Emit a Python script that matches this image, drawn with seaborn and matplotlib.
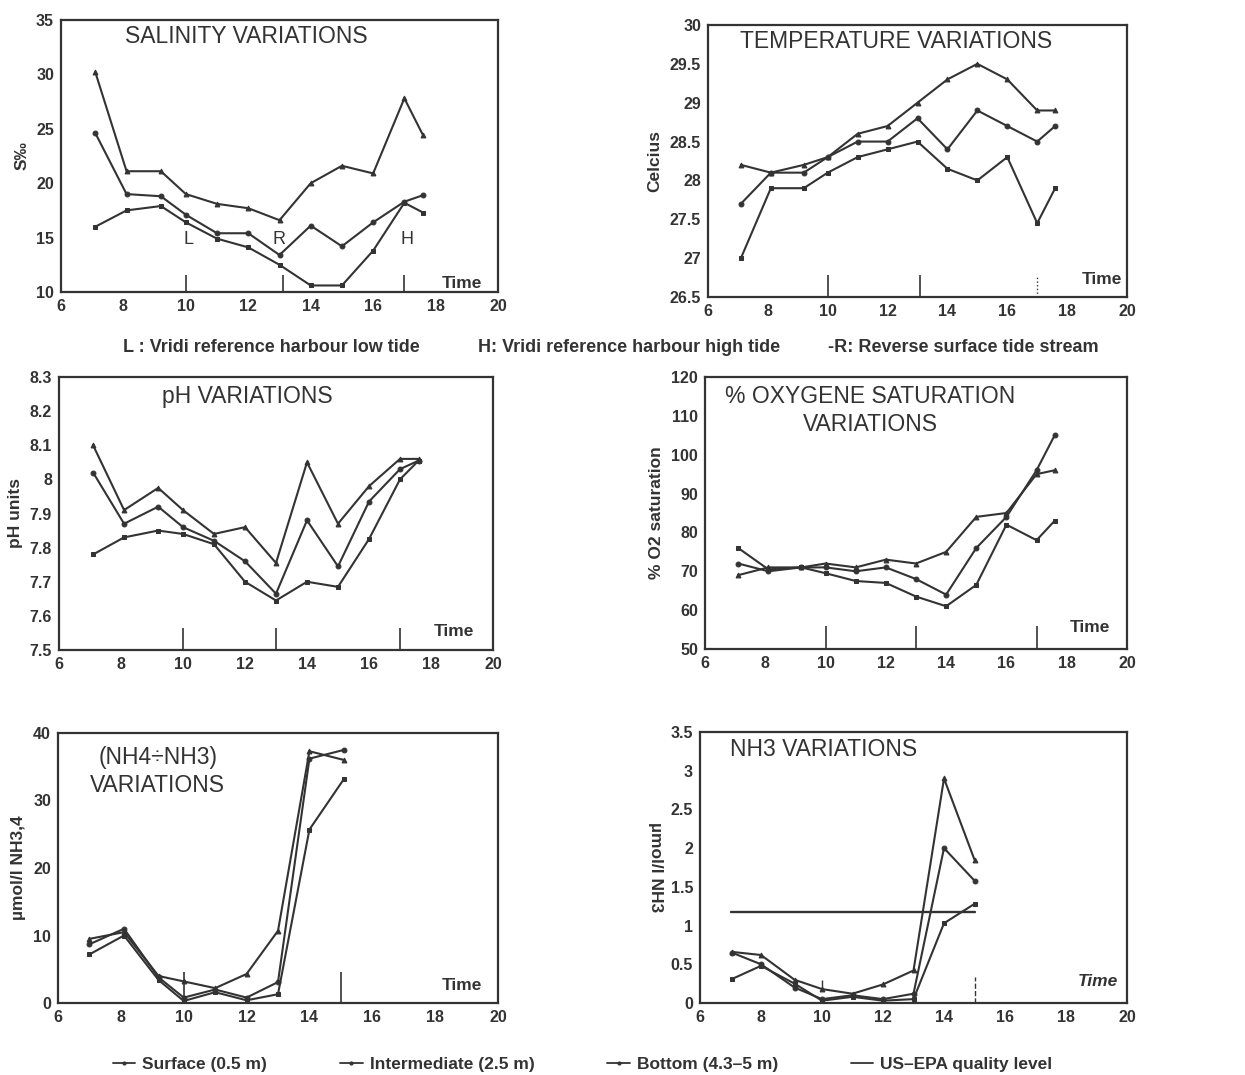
import matplotlib
matplotlib.use('Agg')
import matplotlib.pyplot as plt
import seaborn as sns
from matplotlib.lines import Line2D

sns.set_theme(style='white')
plt.rcParams['font.family'] = ['Liberation Sans', 'DejaVu Sans']

INK = '#333333'

# ---------------- data ----------------
times = [7.1, 8.1, 9.2, 10.0, 11.0, 12.0, 13.0, 14.0, 15.0, 16.0, 17.0, 17.6]

sal_surface = [30.2, 21.1, 21.1, 19.0, 18.1, 17.7, 16.6, 20.0, 21.6, 20.9, 27.8, 24.4]
sal_interm = [24.6, 19.0, 18.8, 17.1, 15.4, 15.4, 13.4, 16.1, 14.2, 16.4, 18.3, 18.9]
sal_bottom = [16.0, 17.5, 17.9, 16.4, 14.9, 14.1, 12.5, 10.6, 10.6, 13.8, 18.2, 17.3]

tmp_surface = [28.2, 28.1, 28.2, 28.3, 28.6, 28.7, 29.0, 29.3, 29.5, 29.3, 28.9, 28.9]
tmp_interm = [27.7, 28.1, 28.1, 28.3, 28.5, 28.5, 28.8, 28.4, 28.9, 28.7, 28.5, 28.7]
tmp_bottom = [27.0, 27.9, 27.9, 28.1, 28.3, 28.4, 28.5, 28.15, 28.0, 28.3, 27.45, 27.9]

ph_surface = [8.10, 7.91, 7.975, 7.91, 7.84, 7.86, 7.755, 8.05, 7.87, 7.98, 8.06, 8.06]
ph_interm = [8.02, 7.87, 7.92, 7.86, 7.82, 7.76, 7.665, 7.88, 7.745, 7.935, 8.03, 8.055]
ph_bottom = [7.78, 7.83, 7.85, 7.84, 7.81, 7.70, 7.645, 7.70, 7.685, 7.825, 8.00, 8.055]

ox_surface = [69, 71, 71, 72, 71, 73, 72, 75, 84, 85, 95, 96]
ox_interm = [72, 70, 71, 71, 70, 71, 68, 64, 76, 84, 96, 105]
ox_bottom = [76, 70.5, 71, 69.5, 67.5, 67, 63.5, 61, 66.5, 82, 78, 83]

nh_times = [7.0, 8.1, 9.2, 10.0, 11.0, 12.0, 13.0, 14.0, 15.1]
nh4_surface = [9.5, 10.5, 4.0, 3.2, 2.2, 4.3, 10.7, 37.3, 36.0]
nh4_interm = [8.7, 11.0, 3.8, 0.8, 2.0, 0.8, 3.1, 36.2, 37.5]
nh4_bottom = [7.2, 10.0, 3.4, 0.3, 1.6, 0.4, 1.3, 25.7, 33.2]

nh3_times = [7.05, 8.0, 9.1, 10.0, 11.0, 12.0, 13.0, 14.0, 15.0]
nh3_surface = [0.66, 0.62, 0.30, 0.18, 0.12, 0.24, 0.42, 2.90, 1.85]
nh3_interm = [0.65, 0.50, 0.20, 0.05, 0.10, 0.05, 0.12, 2.00, 1.58]
nh3_bottom = [0.31, 0.48, 0.25, 0.03, 0.08, 0.03, 0.05, 1.03, 1.28]
epa_x = [7.0, 15.0]
epa_level = [1.18, 1.18]

series_names = ['Surface (0.5 m)', 'Intermediate (2.5 m)', 'Bottom (4.3\u20135 m)', 'US\u2013EPA quality level']
markers = ['^', 'o', 's']

x_ticks = [6, 8, 10, 12, 14, 16, 18, 20]

# ---------------- figure ----------------
fig = plt.figure(figsize=(12.45, 10.75), dpi=100)

def make_ax(l, t, r, b):
    W, H = 1245, 1075
    return fig.add_axes([l / W, 1 - b / H, (r - l) / W, (b - t) / H])

def style(ax, ylim, yticks, ylabels, ylabel, ylabel_rot=90):
    ax.set_xlim(6, 20)
    ax.set_ylim(*ylim)
    ax.set_xticks(x_ticks)
    ax.set_xticklabels([str(v) for v in x_ticks])
    ax.set_yticks(yticks)
    ax.set_yticklabels(ylabels)
    ax.tick_params(direction='in', length=4, width=1.2, colors=INK, labelsize=11.5, pad=5)
    for lab in ax.get_xticklabels() + ax.get_yticklabels():
        lab.set_fontweight('bold')
        lab.set_color(INK)
    for sp in ax.spines.values():
        sp.set_visible(True)
        sp.set_color(INK)
        sp.set_linewidth(1.6)
    ax.set_xlabel('')
    if ylabel_rot == 90:
        ax.set_ylabel(ylabel, fontsize=12.5, fontweight='bold', color=INK, labelpad=5)
    else:
        ax.set_ylabel(ylabel, fontsize=12.5, fontweight='bold', color=INK, labelpad=16, rotation=270)

def draw(ax, x, ys):
    for vals, mk in zip(ys, markers):
        sns.lineplot(x=x, y=vals, ax=ax, color=INK, marker=mk, markersize=3.5,
                     markeredgecolor=INK, linewidth=1.5, estimator=None,
                     sort=False, legend=False)

def title(ax, txt, x, y, ha='left'):
    ax.text(x, y, txt, transform=ax.transAxes, fontsize=16.5, color=INK,
            ha=ha, va='center', linespacing=1.3, multialignment='center')

def time_label(ax, x, y, italic=False):
    ax.text(x, y, 'Time', fontsize=12.5, fontweight='bold', color=INK,
            ha='left', va='center', style='italic' if italic else 'normal')

# Salinity
ax1 = make_ax(61, 20, 498, 292)
draw(ax1, times, [sal_surface, sal_interm, sal_bottom])
style(ax1, (10, 35), [10, 15, 20, 25, 30, 35], ['10', '15', '20', '25', '30', '35'], 'S\u2030')
title(ax1, 'SALINITY VARIATIONS', 0.146, 0.94)
ax1.vlines([10, 13.1, 17], 10, 11.6, color=INK, linewidth=1.2)
for lbl, xv in [('L', 10.1), ('R', 13.0), ('H', 17.1)]:
    ax1.text(xv, 14.8, lbl, fontsize=13, color=INK, ha='center', va='center')
time_label(ax1, 18.2, 10.8)

# Temperature
ax2 = make_ax(708, 25, 1127, 297)
draw(ax2, times, [tmp_surface, tmp_interm, tmp_bottom])
style(ax2, (26.5, 30), [26.5, 27, 27.5, 28, 28.5, 29, 29.5, 30],
      ['26.5', '27', '27.5', '28', '28.5', '29', '29.5', '30'], 'Celcius')
title(ax2, 'TEMPERATURE VARIATIONS', 0.076, 0.94)
ax2.vlines([10, 13.1], 26.5, 26.78, color=INK, linewidth=1.2)
ax2.vlines([17], 26.5, 26.78, color=INK, linewidth=1.0, linestyles=':')
time_label(ax2, 18.5, 26.72)

# pH
ax3 = make_ax(59, 377, 493, 650)
draw(ax3, times, [ph_surface, ph_interm, ph_bottom])
style(ax3, (7.5, 8.3), [7.5, 7.6, 7.7, 7.8, 7.9, 8.0, 8.1, 8.2, 8.3],
      ['7.5', '7.6', '7.7', '7.8', '7.9', '8', '8.1', '8.2', '8.3'], 'pH units')
title(ax3, 'pH VARIATIONS', 0.237, 0.927)
ax3.vlines([10, 13.0, 17], 7.5, 7.565, color=INK, linewidth=1.2)
time_label(ax3, 18.1, 7.555)

# Oxygen
ax4 = make_ax(705, 377, 1127, 649)
draw(ax4, times, [ox_surface, ox_interm, ox_bottom])
style(ax4, (50, 120), [50, 60, 70, 80, 90, 100, 110, 120],
      ['50', '60', '70', '80', '90', '100', '110', '120'], '% O2 saturation')
title(ax4, '% OXYGENE SATURATION\nVARIATIONS', 0.391, 0.877, ha='center')
ax4.vlines([10, 13.0, 17], 50, 56, color=INK, linewidth=1.2)
time_label(ax4, 18.1, 55.5)

# NH4 + NH3
ax5 = make_ax(58, 733, 498, 1003)
draw(ax5, nh_times, [nh4_surface, nh4_interm, nh4_bottom])
style(ax5, (0, 40), [0, 10, 20, 30, 40], ['0', '10', '20', '30', '40'], '\u00b5mol/l NH3,4')
title(ax5, '(NH4\u00f7NH3)\nVARIATIONS', 0.227, 0.857, ha='center')
ax5.vlines([10, 15], 0, 4.6, color=INK, linewidth=1.2)
time_label(ax5, 18.2, 2.6)

# NH3
ax6 = make_ax(700, 732, 1127, 1003)
draw(ax6, nh3_times, [nh3_surface, nh3_interm, nh3_bottom])
sns.lineplot(x=epa_x, y=epa_level, ax=ax6, color=INK, linewidth=1.7, legend=False)
style(ax6, (0, 3.5), [0, 0.5, 1, 1.5, 2, 2.5, 3, 3.5],
      ['0', '0.5', '1', '1.5', '2', '2.5', '3', '3.5'], '\u00b5mol/l NH3', ylabel_rot=270)
title(ax6, 'NH3 VARIATIONS', 0.07, 0.934)
ax6.vlines([15], 0, 0.33, color=INK, linewidth=1.0, linestyles='--')
ax6.vlines([10], 0.2, 0.3, color=INK, linewidth=1.0)
time_label(ax6, 18.4, 0.28, italic=True)

# footnotes under the salinity / temperature row
fn_y = 1 - 347 / 1075
fn_kw = dict(fontsize=13, fontweight='bold', color=INK, va='center')
fig.text(123 / 1245, fn_y, 'L : Vridi reference harbour low tide', **fn_kw)
fig.text(478 / 1245, fn_y, 'H: Vridi reference harbour high tide', **fn_kw)
fig.text(828 / 1245, fn_y, '-R: Reverse surface tide stream', **fn_kw)

# legend at the bottom
handles = [Line2D([0], [0], color=INK, linewidth=1.3, marker='.', markersize=4),
           Line2D([0], [0], color=INK, linewidth=1.3, marker='.', markersize=4),
           Line2D([0], [0], color=INK, linewidth=1.3, marker='.', markersize=4),
           Line2D([0], [0], color=INK, linewidth=1.3)]
leg = fig.legend(handles, series_names, loc='center', ncol=4, frameon=False,
                 bbox_to_anchor=(0.468, 1 - 1064 / 1075), handlelength=1.3,
                 handletextpad=0.4, columnspacing=4.2,
                 prop={'size': 12.5, 'weight': 'bold'})
for t in leg.get_texts():
    t.set_color(INK)

fig.savefig('out.png', dpi=100, facecolor='white')
